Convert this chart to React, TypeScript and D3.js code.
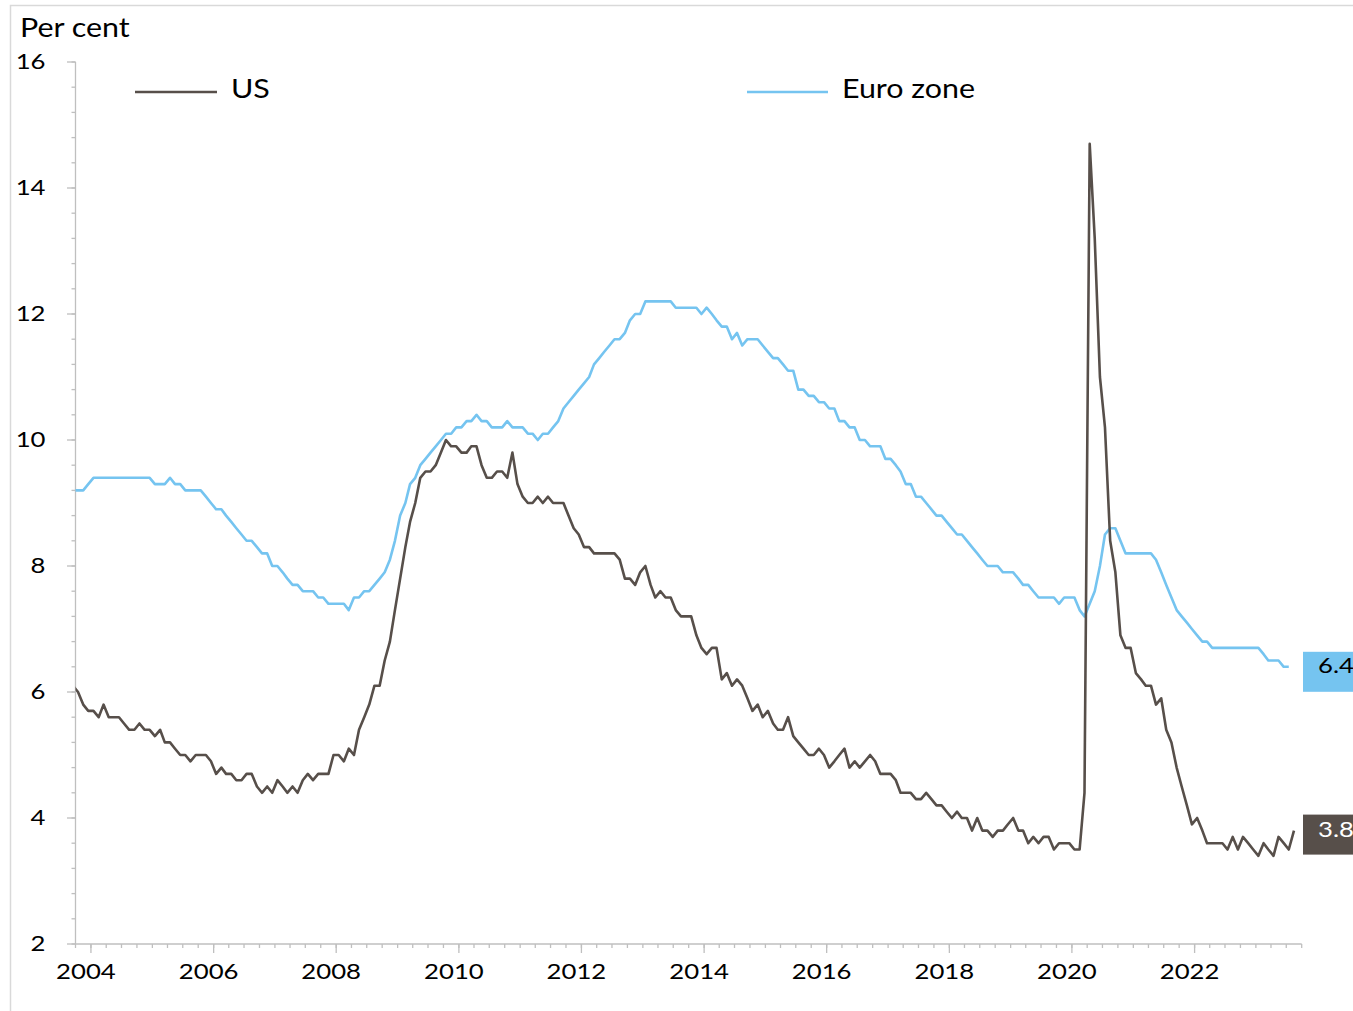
import React from 'react';
import * as d3 from 'd3';

// ---------- data ----------
// Monthly unemployment rates, first value = September 2003
const START_YEAR = 2003;
const START_MONTH = 8; // 0-based (September)

const usRate: number[] = [
  // 2003 Sep-Dec
  6.1, 6.0, 5.8, 5.7,
  // 2004
  5.7, 5.6, 5.8, 5.6, 5.6, 5.6, 5.5, 5.4, 5.4, 5.5, 5.4, 5.4,
  // 2005
  5.3, 5.4, 5.2, 5.2, 5.1, 5.0, 5.0, 4.9, 5.0, 5.0, 5.0, 4.9,
  // 2006
  4.7, 4.8, 4.7, 4.7, 4.6, 4.6, 4.7, 4.7, 4.5, 4.4, 4.5, 4.4,
  // 2007
  4.6, 4.5, 4.4, 4.5, 4.4, 4.6, 4.7, 4.6, 4.7, 4.7, 4.7, 5.0,
  // 2008
  5.0, 4.9, 5.1, 5.0, 5.4, 5.6, 5.8, 6.1, 6.1, 6.5, 6.8, 7.3,
  // 2009
  7.8, 8.3, 8.7, 9.0, 9.4, 9.5, 9.5, 9.6, 9.8, 10.0, 9.9, 9.9,
  // 2010
  9.8, 9.8, 9.9, 9.9, 9.6, 9.4, 9.4, 9.5, 9.5, 9.4, 9.8, 9.3,
  // 2011
  9.1, 9.0, 9.0, 9.1, 9.0, 9.1, 9.0, 9.0, 9.0, 8.8, 8.6, 8.5,
  // 2012
  8.3, 8.3, 8.2, 8.2, 8.2, 8.2, 8.2, 8.1, 7.8, 7.8, 7.7, 7.9,
  // 2013
  8.0, 7.7, 7.5, 7.6, 7.5, 7.5, 7.3, 7.2, 7.2, 7.2, 6.9, 6.7,
  // 2014
  6.6, 6.7, 6.7, 6.2, 6.3, 6.1, 6.2, 6.1, 5.9, 5.7, 5.8, 5.6,
  // 2015
  5.7, 5.5, 5.4, 5.4, 5.6, 5.3, 5.2, 5.1, 5.0, 5.0, 5.1, 5.0,
  // 2016
  4.8, 4.9, 5.0, 5.1, 4.8, 4.9, 4.8, 4.9, 5.0, 4.9, 4.7, 4.7,
  // 2017
  4.7, 4.6, 4.4, 4.4, 4.4, 4.3, 4.3, 4.4, 4.3, 4.2, 4.2, 4.1,
  // 2018
  4.0, 4.1, 4.0, 4.0, 3.8, 4.0, 3.8, 3.8, 3.7, 3.8, 3.8, 3.9,
  // 2019
  4.0, 3.8, 3.8, 3.6, 3.7, 3.6, 3.7, 3.7, 3.5, 3.6, 3.6, 3.6,
  // 2020
  3.5, 3.5, 4.4, 14.7, 13.2, 11.0, 10.2, 8.4, 7.9, 6.9, 6.7, 6.7,
  // 2021
  6.3, 6.2, 6.1, 6.1, 5.8, 5.9, 5.4, 5.2, 4.8, 4.5, 4.2, 3.9,
  // 2022
  4.0, 3.8, 3.6, 3.6, 3.6, 3.6, 3.5, 3.7, 3.5, 3.7, 3.6, 3.5,
  // 2023 Jan-Aug
  3.4, 3.6, 3.5, 3.4, 3.7, 3.6, 3.5, 3.8,
];

const euroRate: number[] = [
  // 2003 Sep-Dec
  9.2, 9.2, 9.2, 9.3,
  // 2004
  9.4, 9.4, 9.4, 9.4, 9.4, 9.4, 9.4, 9.4, 9.4, 9.4, 9.4, 9.4,
  // 2005
  9.3, 9.3, 9.3, 9.4, 9.3, 9.3, 9.2, 9.2, 9.2, 9.2, 9.1, 9.0,
  // 2006
  8.9, 8.9, 8.8, 8.7, 8.6, 8.5, 8.4, 8.4, 8.3, 8.2, 8.2, 8.0,
  // 2007
  8.0, 7.9, 7.8, 7.7, 7.7, 7.6, 7.6, 7.6, 7.5, 7.5, 7.4, 7.4,
  // 2008
  7.4, 7.4, 7.3, 7.5, 7.5, 7.6, 7.6, 7.7, 7.8, 7.9, 8.1, 8.4,
  // 2009
  8.8, 9.0, 9.3, 9.4, 9.6, 9.7, 9.8, 9.9, 10.0, 10.1, 10.1, 10.2,
  // 2010
  10.2, 10.3, 10.3, 10.4, 10.3, 10.3, 10.2, 10.2, 10.2, 10.3, 10.2, 10.2,
  // 2011
  10.2, 10.1, 10.1, 10.0, 10.1, 10.1, 10.2, 10.3, 10.5, 10.6, 10.7, 10.8,
  // 2012
  10.9, 11.0, 11.2, 11.3, 11.4, 11.5, 11.6, 11.6, 11.7, 11.9, 12.0, 12.0,
  // 2013
  12.2, 12.2, 12.2, 12.2, 12.2, 12.2, 12.1, 12.1, 12.1, 12.1, 12.1, 12.0,
  // 2014
  12.1, 12.0, 11.9, 11.8, 11.8, 11.6, 11.7, 11.5, 11.6, 11.6, 11.6, 11.5,
  // 2015
  11.4, 11.3, 11.3, 11.2, 11.1, 11.1, 10.8, 10.8, 10.7, 10.7, 10.6, 10.6,
  // 2016
  10.5, 10.5, 10.3, 10.3, 10.2, 10.2, 10.0, 10.0, 9.9, 9.9, 9.9, 9.7,
  // 2017
  9.7, 9.6, 9.5, 9.3, 9.3, 9.1, 9.1, 9.0, 8.9, 8.8, 8.8, 8.7,
  // 2018
  8.6, 8.5, 8.5, 8.4, 8.3, 8.2, 8.1, 8.0, 8.0, 8.0, 7.9, 7.9,
  // 2019
  7.9, 7.8, 7.7, 7.7, 7.6, 7.5, 7.5, 7.5, 7.5, 7.4, 7.5, 7.5,
  // 2020
  7.5, 7.3, 7.2, 7.4, 7.6, 8.0, 8.5, 8.6, 8.6, 8.4, 8.2, 8.2,
  // 2021
  8.2, 8.2, 8.2, 8.2, 8.1, 7.9, 7.7, 7.5, 7.3, 7.2, 7.1, 7.0,
  // 2022
  6.9, 6.8, 6.8, 6.7, 6.7, 6.7, 6.7, 6.7, 6.7, 6.7, 6.7, 6.7,
  // 2023 Jan-Jul
  6.7, 6.6, 6.5, 6.5, 6.5, 6.4, 6.4,
];

const seriesNames = ['US', 'Euro zone'];
const yTicks = [2, 4, 6, 8, 10, 12, 14, 16];
const xTickYears = [2004, 2006, 2008, 2010, 2012, 2014, 2016, 2018, 2020, 2022];
const yTitle = 'Per cent';

// ---------- styles ----------
const W = 1353;
const H = 1011;
const FONT = "Lato, 'Open Sans', sans-serif";
const SX = 1.17;
const US_COLOR = '#574f4a';
const EURO_COLOR = '#75c4f0';
const AXIS_COLOR = '#bfbfbf';

const M = { left: 75.5, right: 1301.7, top: 62, bottom: 944 };

function Txt(props: {
  x: number; y: number; size: number; anchor?: string; fill?: string; children: React.ReactNode;
}) {
  const { x, y, size, anchor = 'start', fill = '#000', children } = props;
  return (
    <text
      transform={`translate(${x},${y}) scale(${SX},1)`}
      textAnchor={anchor}
      fontSize={size}
      fontFamily={FONT}
      fill={fill}
    >
      {children}
    </text>
  );
}

export default function App() {
  const x = d3
    .scaleTime()
    .domain([new Date(2003, 9, 1), new Date(2023, 9, 1)])
    .range([M.left, M.right]);
  const y = d3.scaleLinear().domain([2, 16]).range([M.bottom, M.top]);

  const dateOf = (k: number) => new Date(START_YEAR, START_MONTH + k, 16);
  const line = d3
    .line<number>()
    .x((_, k) => x(dateOf(k)))
    .y((v) => y(v));

  const quarterTicks = d3.timeMonth.every(3)!.range(new Date(2003, 9, 1), new Date(2023, 9, 2));
  const minorY = d3.range(2, 16.001, 0.4).map((v) => Math.round(v * 10) / 10);

  const usLast = usRate[usRate.length - 1];
  const euroLast = euroRate[euroRate.length - 1];

  return (
    <svg
      width={W}
      height={H}
      style={{ position: 'absolute', left: 0, top: 0, background: '#fff' }}
    >
      <defs>
        <clipPath id="plotClip">
          <rect x={M.left} y={0} width={M.right - M.left} height={H} />
        </clipPath>
      </defs>
      <rect x={0} y={0} width={W} height={H} fill="#fff" />
      {/* outer frame */}
      <path d={`M10.5,${H} V5.5 H${W}`} fill="none" stroke="#d9d9d9" strokeWidth={1.5} />

      {/* y-axis */}
      <line x1={M.left} x2={M.left} y1={M.top} y2={M.bottom} stroke={AXIS_COLOR} strokeWidth={1.3} />
      {minorY.map((v) => (
        <line key={'my' + v} x1={M.left - 4} x2={M.left} y1={y(v)} y2={y(v)} stroke={AXIS_COLOR} strokeWidth={1.3} />
      ))}
      {yTicks.map((v) => (
        <g key={'y' + v}>
          <line x1={M.left - 8.5} x2={M.left} y1={y(v)} y2={y(v)} stroke={AXIS_COLOR} strokeWidth={1.3} />
          <Txt x={45.5} y={y(v) + 7} size={22} anchor="end">{v}</Txt>
        </g>
      ))}

      {/* x-axis */}
      <line x1={M.left} x2={M.right} y1={M.bottom} y2={M.bottom} stroke={AXIS_COLOR} strokeWidth={1.3} />
      {quarterTicks.map((d) => (
        <line key={'q' + d.getTime()} x1={x(d)} x2={x(d)} y1={M.bottom} y2={M.bottom + 4} stroke={AXIS_COLOR} strokeWidth={1.3} />
      ))}
      {xTickYears.map((yr) => {
        const px = x(new Date(yr, 0, 1));
        return (
          <g key={'x' + yr}>
            <line x1={px} x2={px} y1={M.bottom} y2={M.bottom + 9} stroke={AXIS_COLOR} strokeWidth={1.3} />
            <Txt x={px - 5} y={979} size={22} anchor="middle">{yr}</Txt>
          </g>
        );
      })}

      {/* title */}
      <Txt x={20} y={37} size={26}>{yTitle}</Txt>

      {/* series */}
      <g clipPath="url(#plotClip)">
        <path d={line(euroRate) || ''} fill="none" stroke={EURO_COLOR} strokeWidth={2.6} strokeLinejoin="round" />
        <path d={line(usRate) || ''} fill="none" stroke={US_COLOR} strokeWidth={2.6} strokeLinejoin="round" />
      </g>

      {/* legend */}
      <line x1={135} x2={217} y1={92} y2={92} stroke={US_COLOR} strokeWidth={2.6} />
      <Txt x={231} y={98} size={26}>{seriesNames[0]}</Txt>
      <line x1={747} x2={828} y1={92} y2={92} stroke={EURO_COLOR} strokeWidth={2.6} />
      <Txt x={842} y={98} size={26}>{seriesNames[1]}</Txt>

      {/* end labels */}
      <rect x={1303} y={y(euroLast) - 15} width={60} height={40} fill={EURO_COLOR} />
      <Txt x={1318} y={y(euroLast) + 6} size={22} fill="#000">{euroLast.toFixed(1)}</Txt>
      <rect x={1303} y={y(usLast) - 16} width={60} height={40} fill={US_COLOR} />
      <Txt x={1318} y={y(usLast) + 6} size={22} fill="#fff">{usLast.toFixed(1)}</Txt>
    </svg>
  );
}
